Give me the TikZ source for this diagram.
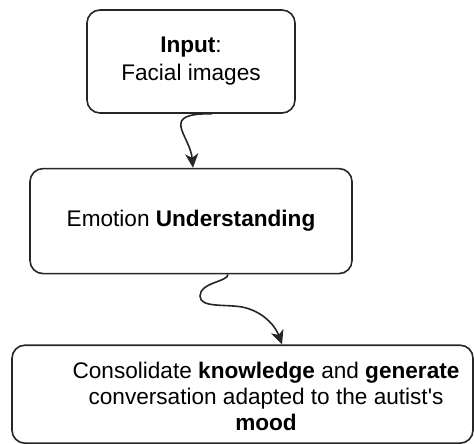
\documentclass[tikz,border=0pt]{standalone}
\usepackage{fontspec}
\setmainfont{Liberation Sans}
\usetikzlibrary{positioning,arrows.meta}
\definecolor{edgegray}{rgb}{0.15,0.15,0.15}

\begin{document}
\begin{tikzpicture}[x=0.5pt, y=-0.5pt, node distance=27pt,
    font=\fontsize{11.3}{13}\selectfont,
    block/.style={draw=edgegray, line width=0.8pt, rounded corners=6.5pt, align=center},
    flow/.style={-{Stealth[length=7pt, width=6.5pt, inset=2pt]}, line width=0.8pt, edgegray}]
    \useasboundingbox (0,0) rectangle (474,443);

    % Boxes
    \node (input) [block, minimum width=104pt, minimum height=51.5pt] at (191,61.5) {\textbf{Input}:\\[1pt]Facial images};
    \node (emotion) [block, below=of input, minimum width=161pt, minimum height=52.5pt] {Emotion \textbf{Understanding}};
    \node (mood) [block, below=35pt of emotion, xshift=25.75pt, minimum width=230.5pt, minimum height=49pt] {};
    \node (moodtext) [align=center] at ([xshift=11.75pt, yshift=-1pt]mood.center) {Consolidate \textbf{knowledge} and \textbf{generate}\\conversation adapted to the autist\textquotesingle s\\\textbf{mood}};

    % Arrows
    \draw[flow] ([xshift=10.5pt]input.south) .. controls (158,113) and (190,135) .. ([xshift=1pt]emotion.north);
    \draw[flow] ([xshift=18.5pt]emotion.south) .. controls (228,282) and (200,282) .. (200,296)
        .. controls (200,308) and (225,304) .. (242,307)
        .. controls (262,311) and (275,325) .. ([xshift=19.75pt]mood.north);
\end{tikzpicture}
\end{document}
